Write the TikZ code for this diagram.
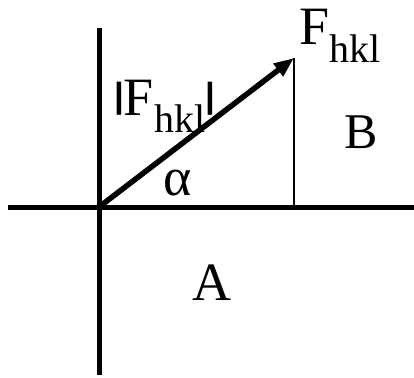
\documentclass[tikz,border=0pt]{standalone}
\usepackage{fontspec}
\setmainfont{Liberation Serif}
\setsansfont{Liberation Sans}
\usepackage{tikz}
\usetikzlibrary{arrows.meta, positioning, calc}

\newcommand{\hklsub}{\raisebox{-0.33em}{\fontsize{40}{40}\selectfont hkl}}
\newcommand{\absbar}{\raisebox{7.5pt}{\fontsize{35}{35}\selectfont\sffamily\bfseries|}}

\begin{document}
\begin{tikzpicture}[x=1pt, y=-1pt,
    axisline/.style={line width=5pt},
    vecline/.style={line width=5.5pt, -{Triangle[length=20pt, width=15pt]}},
    projline/.style={line width=1.5pt},
    lbl/.style={inner sep=0pt, anchor=base west, font=\fontsize{54}{54}\selectfont}]
  \useasboundingbox (0,0) rectangle (414,377);
  % axes
  \coordinate (O) at (99,207);
  \coordinate (xleft) at (8,207);
  \coordinate (xright) at (414,207);
  \coordinate (ytop) at (99,28);
  \coordinate (ybot) at (99,375);
  \draw[axisline] (xleft) -- (xright);
  \draw[axisline] (ytop) -- (ybot);
  % vector and its projection
  \coordinate (tip) at (294,58);
  \coordinate (foot) at (294,207);
  \draw[projline] (tip) -- (foot);
  \draw[vecline] (O) -- (tip);
  % labels
  \node[lbl] (fvec) at (299,45) {F\hklsub};
  \node[lbl] (fabs) at (114,115) {\absbar F\hklsub\absbar};
  \node[lbl] (alpha) at (163,195) {α};
  \node[lbl, font=\fontsize{50}{50}\selectfont] (regB) at (344,148) {B};
  \node[lbl] (regA) at (192,300) {A};
\end{tikzpicture}
\end{document}
